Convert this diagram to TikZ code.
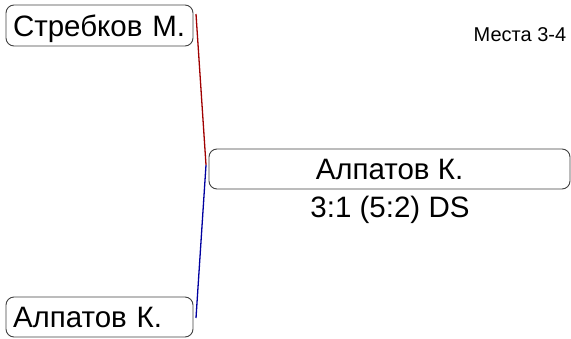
\documentclass[tikz,border=0pt]{standalone}
\usepackage{fontspec}
\setmainfont{Liberation Sans}
\definecolor{winline}{RGB}{160,0,0}
\definecolor{loseline}{RGB}{0,0,160}
\definecolor{boxedge}{RGB}{64,64,64}
\tikzset{
  player/.style={draw=boxedge,line width=0.9pt,rounded corners=8pt,inner ysep=0pt,
    font=\fontsize{29.5}{29.5}\selectfont,text height=21pt,text depth=0pt},
  seed/.style={player,inner xsep=7pt,text width=173pt,align=left,minimum height=40pt},
  result/.style={inner sep=0pt,font=\fontsize{29.5}{29.5}\selectfont,text height=21pt,text depth=0pt},
}
\begin{document}
\begin{tikzpicture}[x=1pt,y=-1pt]
\useasboundingbox (0,0) rectangle (571,338);

\node[seed,minimum height=41pt] (strebkov) at (99.5,25.5) {Стребков М.};
\node[seed] (alpatov) at (99.5,317) {Алпатов К.};
\node[player,inner xsep=0pt,minimum width=361pt,minimum height=40pt] (winner) at (389.5,169) {Алпатов К.};
\node[result] (score) at (390,206.5) {3:1 (5:2) DS};
\node[inner sep=0pt,font=\fontsize{20}{20}\selectfont,text height=14pt,text depth=0pt] (places) at (520,34) {Места 3-4};

\coordinate (top) at (196,14);
\coordinate (bottom) at (196,318);
\coordinate (join) at (206,165);
\draw[winline,line width=1.3pt] (top) -- (join);
\draw[loseline,line width=1.3pt] (join) -- (bottom);
\end{tikzpicture}
\end{document}
